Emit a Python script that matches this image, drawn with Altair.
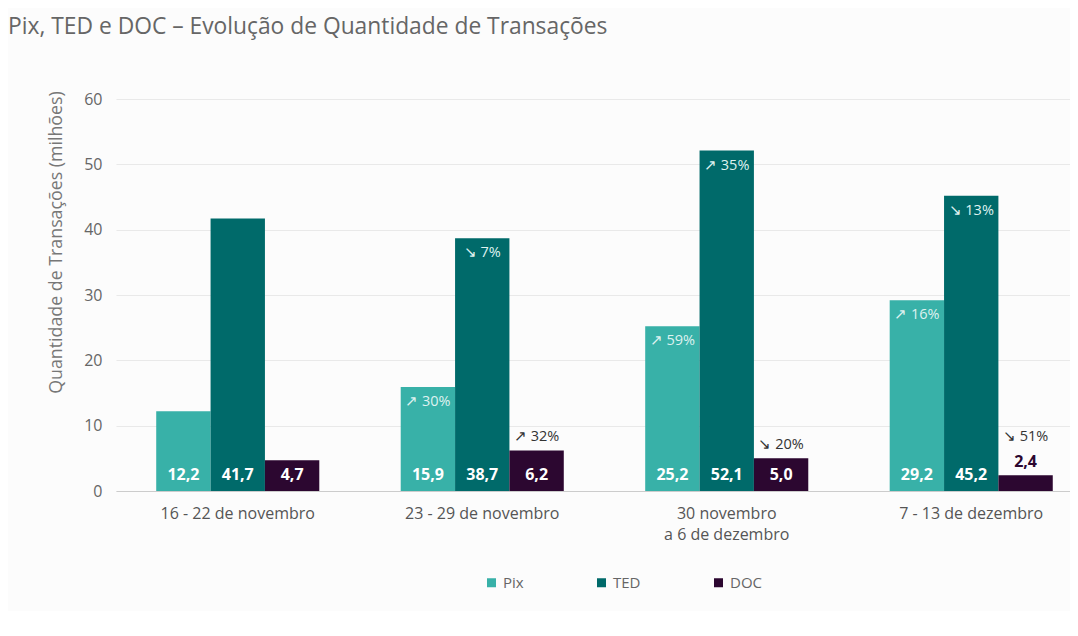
import altair as alt
import pandas as pd

weeks = ["16 - 22 de novembro", "23 - 29 de novembro", "30 novembro|a 6 de dezembro", "7 - 13 de dezembro"]
series = ["Pix", "TED", "DOC"]
pix = [12.2, 15.9, 25.2, 29.2]
ted = [41.7, 38.7, 52.1, 45.2]
doc = [4.7, 6.2, 5.0, 2.4]
pix_chg = ["", "↗ 30%", "↗ 59%", "↗ 16%"]
ted_chg = ["", "↘ 7%", "↗ 35%", "↘ 13%"]
doc_chg = ["", "↗ 32%", "↘ 20%", "↘ 51%"]
colors = ["#38b1a8", "#006a6a", "#2c0730"]
y_ticks = [0, 10, 20, 30, 40, 50, 60]

rows = []
for s, vals, chg in [("Pix", pix, pix_chg), ("TED", ted, ted_chg), ("DOC", doc, doc_chg)]:
    for w, v, c in zip(weeks, vals, chg):
        rows.append({"week": w, "series": s, "value": v, "chg": c})
df = pd.DataFrame(rows)

FONT = "Open Sans"

x_enc = alt.X(
    "week:N", sort=weeks, title=None,
    scale=alt.Scale(paddingInner=0.333, paddingOuter=0.1175, align=0.70),
    axis=alt.Axis(labelExpr="split(datum.label, '|')", labelAngle=0, labelFontSize=16,
                  labelColor="#555", labelFont=FONT, labelPadding=14, ticks=False,
                  domainColor="#cccccc", labelLineHeight=21),
)
xo_enc = alt.XOffset("series:N", sort=series, scale=alt.Scale(paddingInner=0, paddingOuter=0))
y_scale = alt.Scale(domain=[0, 60])

base = alt.Chart(df).transform_calculate(
    lbl="replace(format(datum.value, '.1f'), '.', ',')", zero="0"
)

bars = base.mark_bar().encode(
    x=x_enc,
    xOffset=xo_enc,
    y=alt.Y("value:Q", scale=y_scale, title="Quantidade de Transações (milhões)",
            axis=alt.Axis(values=y_ticks, labelFontSize=16, labelColor="#666", labelFont=FONT,
                          titleFontSize=17.8, titleColor="#777", titleFont=FONT, titleFontWeight="normal",
                          titlePadding=18, titleY=143, labelPadding=14, domain=False, ticks=False,
                          gridColor="#e9e9e9")),
    color=alt.Color("series:N", sort=series, scale=alt.Scale(domain=series, range=colors),
                    legend=alt.Legend(title=None, orient="none", direction="horizontal",
                                      legendX=368, legendY=476, symbolType="square",
                                      symbolSize=81, symbolStrokeWidth=0, labelFontSize=15,
                                      labelColor="#666", labelFont=FONT, columnPadding=70,
                                      labelOffset=4)),
)

val_in = base.transform_filter("datum.value >= 3").mark_text(
    color="white", fontWeight="bold", fontSize=16, font=FONT, baseline="middle", dy=-16
).encode(x=x_enc, xOffset=xo_enc, y=alt.Y("zero:Q", scale=y_scale), text="lbl:N")

val_out = base.transform_filter("datum.value < 3").mark_text(
    color="#2c0730", fontWeight="bold", fontSize=16, font=FONT, baseline="middle", dy=-13
).encode(x=x_enc, xOffset=xo_enc, y=alt.Y("value:Q", scale=y_scale), text="lbl:N")

chg_in = base.transform_filter("datum.series != 'DOC'").mark_text(
    color="#dff2f0", fontSize=14.5, font=FONT, baseline="middle", dy=15
).encode(x=x_enc, xOffset=xo_enc, y=alt.Y("value:Q", scale=y_scale), text="chg:N")

chg_doc = base.transform_filter("datum.series == 'DOC' && datum.value >= 3").mark_text(
    color="#333333", fontSize=14.5, font=FONT, baseline="middle", dy=-13
).encode(x=x_enc, xOffset=xo_enc, y=alt.Y("value:Q", scale=y_scale), text="chg:N")

chg_doc_low = base.transform_filter("datum.series == 'DOC' && datum.value < 3").mark_text(
    color="#333333", fontSize=14.5, font=FONT, baseline="middle", dy=-38
).encode(x=x_enc, xOffset=xo_enc, y=alt.Y("value:Q", scale=y_scale), text="chg:N")

chart = alt.layer(bars, val_in, val_out, chg_in, chg_doc, chg_doc_low).properties(
    width=954, height=392,
    title=alt.TitleParams("Pix, TED e DOC – Evolução de Quantidade de Transações",
                          anchor="start", frame="group", fontSize=22.8, color="#666",
                          font=FONT, fontWeight="normal", offset=52, dx=-108),
    autosize=alt.AutoSizeParams(type="none"),
    padding={"left": 108, "top": 91, "right": 0, "bottom": 120},
    background="#fcfcfc",
).configure_view(stroke=None)

chart.save("out.html", embed_options={"renderer": "svg", "actions": False})
